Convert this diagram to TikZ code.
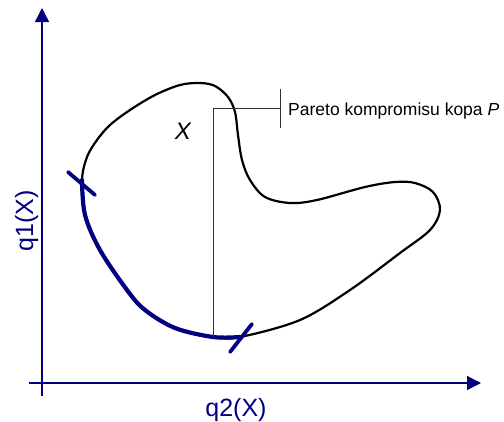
\documentclass[tikz,border=0pt]{standalone}
\usepackage{fontspec}
\setmainfont{Liberation Sans}
\usepackage{xcolor}
\usetikzlibrary{arrows.meta}
\definecolor{asuzils}{RGB}{0,0,128}

\begin{document}
\begin{tikzpicture}[x=1pt, y=-1pt,
    ass/.style={draw=asuzils, line width=1.3pt, -{Triangle[length=14pt,width=14pt]}, fill=asuzils},
    robeza/.style={line width=2.2pt, line join=round},
    fronte/.style={asuzils, line width=4.2pt, line cap=round},
    svitra/.style={asuzils, line width=3.8pt, line cap=round},
    norade/.style={line width=0.8pt, black!80}]
  \useasboundingbox (0,0) rectangle (504,421);

  % Asis
  \coordinate (O) at (42,383);
  \coordinate (xbeigas) at (481,383);
  \coordinate (ybeigas) at (42,8);
  \draw[ass] (29,383) -- (xbeigas);
  \draw[ass] (42,396) -- (ybeigas);
  \node[text=asuzils, font=\fontsize{25}{28}\selectfont, anchor=base] (q2) at (236,416) {q2(X)};
  \node[text=asuzils, font=\fontsize{25}{28}\selectfont, anchor=base, rotate=90] (q1) at (33,221) {q1(X)};

  % Apgabals X
  \draw[robeza] plot[smooth cycle, tension=0.55] coordinates {
    (240,337) (300,320) (350,290) (400,253) (430,230) (440,210) (433,192)
    (415,183) (395,182) (365,187) (317,200) (290,203) (265,197) (250,180)
    (242,160) (238,135) (235,112) (228,97) (215,86) (200,83) (180,85)
    (155,95) (130,110) (110,125) (97,140) (87,157) (82,180) (85,215)
    (100,250) (127,290) (145,310) (175,328) (213,337)};
  \node[font=\fontsize{24}{28}\selectfont\itshape] (X) at (183,131) {X};

  % Pareto fronte
  \draw[fronte] plot[smooth, tension=0.55] coordinates {
    (82,180) (85,215) (100,250) (127,290) (145,310) (175,328) (213,337) (240,337)};
  \draw[svitra] (68,172) -- (95,195);
  \draw[svitra] (230,352) -- (252,324);

  % Norade
  \coordinate (fpunkts) at (213,338);
  \coordinate (lukums) at (213,108);
  \coordinate (svitrapunkts) at (280,108);
  \draw[norade] (fpunkts) -- (lukums) -- (svitrapunkts);
  \draw[norade] (280,89) -- (280,128);
  \node[font=\fontsize{17.5}{20}\selectfont, anchor=base west, inner sep=0pt] (pareto) at (288,115) {Pareto kompromisu kopa \textit{P}};
\end{tikzpicture}
\end{document}
